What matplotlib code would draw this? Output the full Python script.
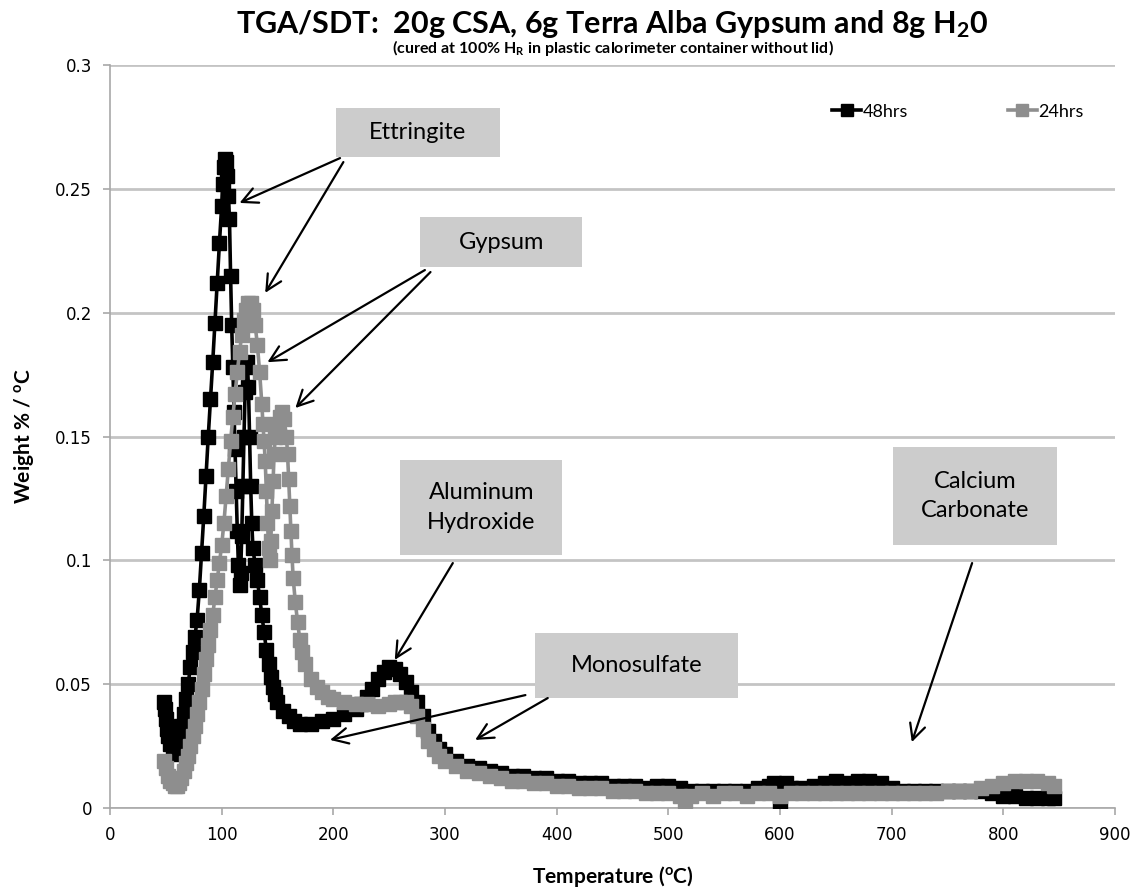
import matplotlib
matplotlib.use("Agg")
import matplotlib.pyplot as plt
from matplotlib.patches import Rectangle

# 48 hrs curve (temperature in C, weight %/C)
temp_48 = [48, 49, 50, 51, 52, 54, 56, 58, 60, 62, 64, 66, 68, 70, 72, 74, 76, 78, 80,
           82, 84, 86, 88, 90, 92, 94, 96, 98, 100, 101, 102, 103, 104, 105, 106, 107,
           108, 109, 110, 111, 112, 113, 114, 115, 116, 117, 118, 119, 120, 121, 122,
           123, 124, 125, 126, 127, 128, 130, 132, 134, 136, 138, 140, 142, 144, 146,
           148, 150, 155, 160, 165, 170, 180, 190, 200, 210, 220, 225, 230, 235, 240,
           245, 250, 255, 260, 265, 270, 275, 280, 285, 290, 295, 300, 310, 320, 330,
           340, 350, 360, 370, 380, 390, 400, 410, 420, 430, 440, 450, 460, 470, 480,
           490, 500, 510, 520, 530, 540, 550, 560, 570, 580, 590, 595, 600, 603, 605,
           610, 620, 630, 640, 650, 660, 670, 680, 690, 700, 710, 720, 730, 740, 750,
           760, 770, 780, 790, 800, 810, 820, 830, 840, 845]
weight_48 = [0.043, 0.040, 0.036, 0.032, 0.029, 0.026, 0.023, 0.022, 0.024, 0.028, 0.033,
             0.038, 0.044, 0.050, 0.057, 0.063, 0.069, 0.076, 0.088, 0.103, 0.118, 0.134,
             0.150, 0.165, 0.180, 0.196, 0.212, 0.228, 0.243, 0.252, 0.259, 0.262, 0.261,
             0.255, 0.247, 0.238, 0.215, 0.195, 0.178, 0.160, 0.145, 0.128, 0.112, 0.098,
             0.090, 0.095, 0.110, 0.130, 0.150, 0.168, 0.178, 0.180, 0.170, 0.150, 0.130,
             0.115, 0.105, 0.098, 0.092, 0.085, 0.078, 0.071, 0.064, 0.058, 0.053, 0.049,
             0.046, 0.043, 0.039, 0.037, 0.035, 0.034, 0.034, 0.035, 0.036, 0.038, 0.040,
             0.042, 0.045, 0.048, 0.052, 0.055, 0.057, 0.056, 0.054, 0.051, 0.047, 0.043,
             0.037, 0.031, 0.027, 0.024, 0.022, 0.019, 0.017, 0.016, 0.015, 0.014, 0.013,
             0.013, 0.012, 0.012, 0.011, 0.011, 0.010, 0.010, 0.010, 0.009, 0.009, 0.009,
             0.008, 0.009, 0.009, 0.008, 0.007, 0.007, 0.007, 0.007, 0.007, 0.007, 0.008,
             0.009, 0.010, 0.002, 0.009, 0.010, 0.008, 0.008, 0.009, 0.010, 0.011, 0.010,
             0.011, 0.011, 0.010, 0.008, 0.007, 0.007, 0.007, 0.007, 0.007, 0.007, 0.007,
             0.007, 0.006, 0.005, 0.005, 0.004, 0.004, 0.004, 0.004]

# 24 hrs curve
temp_24 = [48, 50, 52, 54, 56, 58, 60, 62, 64, 66, 68, 70, 72, 74, 76, 78, 80, 82, 84, 86,
           88, 90, 92, 94, 96, 98, 100, 102, 104, 106, 108, 110, 112, 114, 116, 118, 120,
           122, 124, 126, 128, 130, 132, 134, 136, 137, 138, 139, 140, 141, 142, 143, 144,
           145, 146, 147, 148, 150, 152, 154, 156, 158, 159, 160, 161, 162, 163, 164, 166,
           168, 170, 172, 175, 180, 185, 190, 195, 200, 210, 220, 230, 240, 250, 255, 260,
           265, 270, 275, 280, 285, 290, 295, 300, 310, 320, 330, 340, 350, 360, 370, 380,
           390, 400, 410, 420, 430, 440, 450, 460, 470, 480, 490, 500, 510, 515, 520, 530,
           540, 550, 560, 570, 580, 590, 600, 610, 620, 630, 640, 650, 660, 670, 680, 690,
           700, 710, 720, 730, 740, 750, 760, 770, 780, 790, 800, 810, 820, 830, 840, 845]
weight_24 = [0.019, 0.016, 0.013, 0.011, 0.010, 0.009, 0.009, 0.010, 0.012, 0.015, 0.018,
             0.021, 0.025, 0.029, 0.033, 0.038, 0.043, 0.048, 0.054, 0.060, 0.066, 0.072,
             0.078, 0.085, 0.092, 0.099, 0.106, 0.115, 0.126, 0.137, 0.148, 0.158, 0.167,
             0.176, 0.184, 0.191, 0.197, 0.201, 0.204, 0.204, 0.201, 0.195, 0.187, 0.176,
             0.163, 0.155, 0.148, 0.140, 0.128, 0.115, 0.105, 0.100, 0.108, 0.120, 0.132,
             0.143, 0.150, 0.155, 0.158, 0.160, 0.157, 0.150, 0.143, 0.133, 0.122, 0.112,
             0.102, 0.093, 0.083, 0.075, 0.068, 0.063, 0.058, 0.052, 0.049, 0.047, 0.045,
             0.044, 0.043, 0.042, 0.042, 0.041, 0.042, 0.043, 0.043, 0.043, 0.041, 0.037,
             0.032, 0.027, 0.024, 0.021, 0.019, 0.017, 0.015, 0.014, 0.013, 0.012, 0.011,
             0.011, 0.010, 0.010, 0.009, 0.009, 0.008, 0.008, 0.008, 0.007, 0.007, 0.007,
             0.006, 0.006, 0.006, 0.005, 0.003, 0.005, 0.006, 0.005, 0.006, 0.006, 0.005,
             0.006, 0.006, 0.005, 0.006, 0.006, 0.006, 0.006, 0.006, 0.006, 0.006, 0.006,
             0.006, 0.006, 0.006, 0.006, 0.006, 0.006, 0.007, 0.007, 0.007, 0.008, 0.009,
             0.010, 0.011, 0.011, 0.011, 0.010, 0.009]

# annotation labels: (text, box (x0, x1, y0, y1), arrows [(tail, head)])
labels = ["Ettringite", "Gypsum", "Aluminum\nHydroxide", "Monosulfate", "Calcium\nCarbonate"]
boxes = [(202, 349, 0.2628, 0.2826),
         (278, 423, 0.2184, 0.2386),
         (260, 405, 0.1022, 0.1405),
         (381, 562, 0.0444, 0.0707),
         (701, 848, 0.1062, 0.1458)]
arrows = [[((206, 0.2624), (116, 0.2443)), ((209, 0.2608), (139, 0.208))],
          [((282, 0.2172), (141, 0.180)), ((287, 0.2164), (166, 0.1615))],
          [((307, 0.0989), (255, 0.0598))],
          [((372, 0.0456), (197, 0.0275)), ((392, 0.0444), (327, 0.0275))],
          [((772, 0.0989), (718, 0.0266))]]

TEXT_FONT = ["Lato", "DejaVu Sans"]
plt.rcParams["mathtext.fontset"] = "custom"
plt.rcParams["mathtext.rm"] = "Lato"
plt.rcParams["mathtext.bf"] = "Lato:bold"
plt.rcParams["mathtext.it"] = "Lato:italic"

fig = plt.figure(figsize=(11.42, 8.90), dpi=100)
ax = fig.add_axes([0.0963, 0.0921, 0.8801, 0.8349])

ax.plot(temp_48, weight_48, color="black", lw=2.6, marker="s", ms=10.5,
        label="48hrs", zorder=3)
ax.plot(temp_24, weight_24, color="#8e8e8e", lw=2.6, marker="s", ms=10.5,
        label="24hrs", zorder=4)

ax.set_xlim(0, 900)
ax.set_ylim(0, 0.3)
ax.set_xticks(range(0, 901, 100))
ax.set_yticks([0, 0.05, 0.1, 0.15, 0.2, 0.25, 0.3])
ax.set_yticklabels(["0", "0.05", "0.1", "0.15", "0.2", "0.25", "0.3"])
ax.yaxis.grid(True, color="#c4c4c4", lw=2)
ax.set_axisbelow(True)
for s in ["top", "right"]:
    ax.spines[s].set_visible(False)
for s in ["left", "bottom"]:
    ax.spines[s].set_color("#a8a8a8")
    ax.spines[s].set_linewidth(1.2)
ax.tick_params(axis="both", colors="#a8a8a8", length=5, width=1.2,
               labelcolor="black", labelsize=12, pad=8)

ax.set_xlabel(r"Temperature ($^{\mathbf{o}}$C)", fontsize=15, fontweight="bold",
              family=TEXT_FONT, labelpad=14)
ax.set_ylabel(r"Weight % / $^{\mathbf{o}}$C", fontsize=15, fontweight="bold",
              family=TEXT_FONT, labelpad=14)

# titles centred over the plot area
cx = 0.0963 + 0.8801 / 2
fig.text(cx, 0.973, r"TGA/SDT:  20g CSA, 6g Terra Alba Gypsum and 8g H$_{\mathbf{2}}$0",
         ha="center", va="center", fontsize=22, fontweight="bold", family=TEXT_FONT)
fig.text(cx, 0.946, r"(cured at 100% H$_{\mathbf{R}}$ in plastic calorimeter container without lid)",
         ha="center", va="center", fontsize=11.5, fontweight="bold", family=TEXT_FONT)

leg = ax.legend(loc="upper right", bbox_to_anchor=(0.985, 0.97), ncol=2, frameon=False,
                prop={"family": TEXT_FONT, "size": 13}, handlelength=1.6,
                handletextpad=0.1, columnspacing=5.5, markerscale=0.85)

# annotation boxes and arrows
for text, (x0, x1, y0, y1), arrs in zip(labels, boxes, arrows):
    ax.add_patch(Rectangle((x0, y0), x1 - x0, y1 - y0, facecolor="#cccccc",
                           edgecolor="none", zorder=5))
    ax.text((x0 + x1) / 2, (y0 + y1) / 2, text, ha="center", va="center",
            fontsize=17, family=TEXT_FONT, linespacing=1.5, zorder=6)
    for tail, head in arrs:
        ax.annotate("", xy=head, xytext=tail,
                    arrowprops=dict(arrowstyle="->", color="black", lw=1.6,
                                    mutation_scale=28, shrinkA=0, shrinkB=0),
                    zorder=6)

fig.savefig("out.png", dpi=100)
